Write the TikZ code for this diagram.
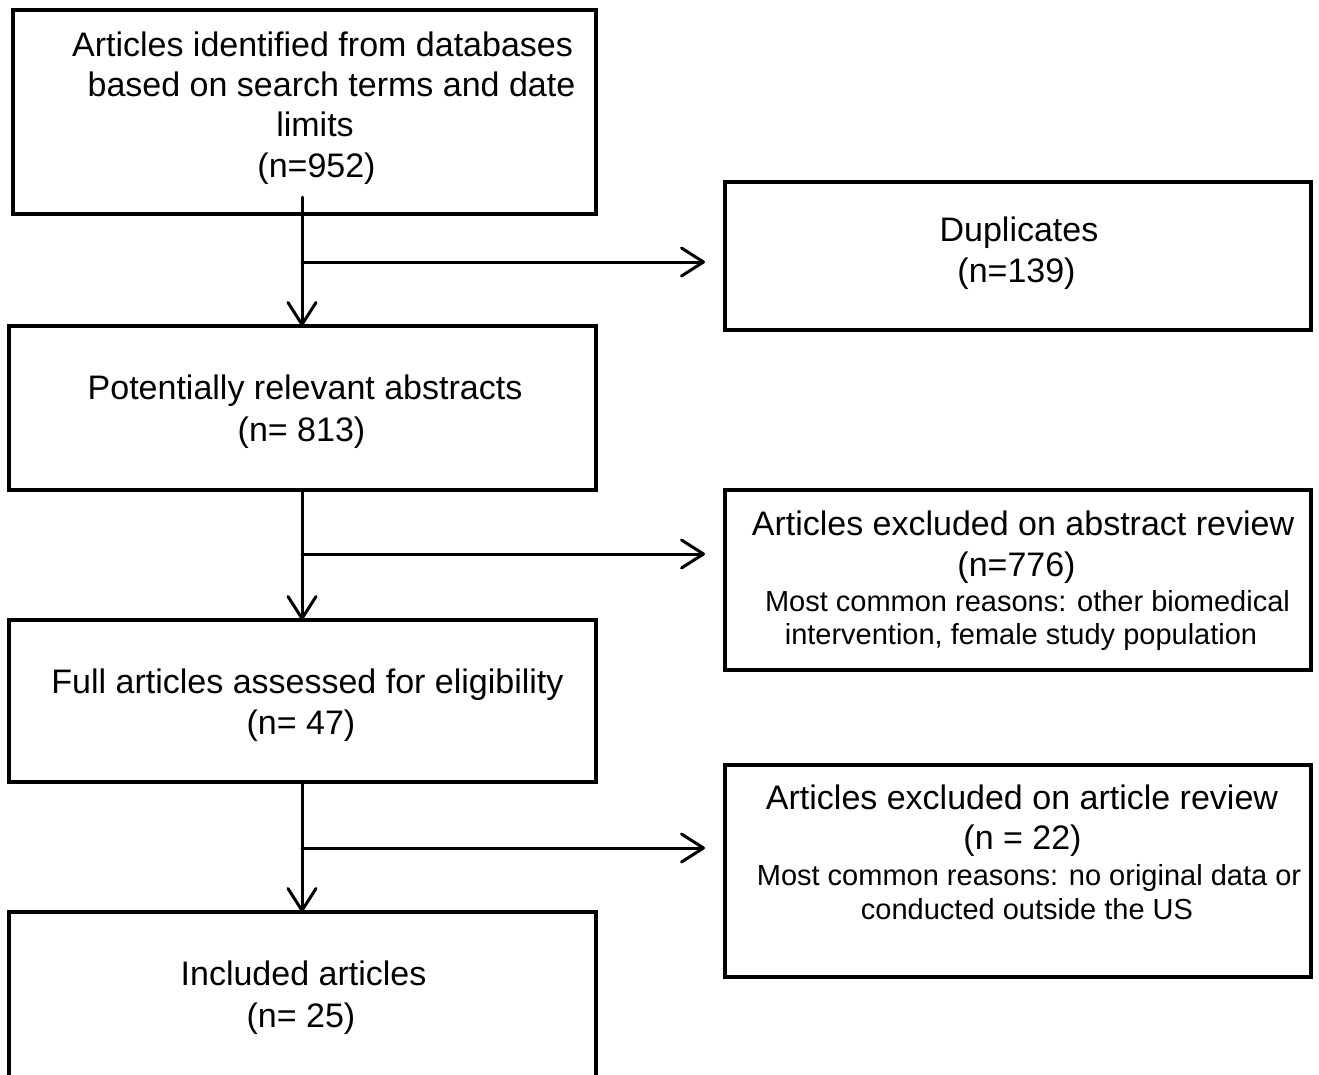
\documentclass[tikz,border=0pt]{standalone}
\usepackage{fontspec}
\setmainfont{Liberation Sans}
\usetikzlibrary{arrows.meta}
\begin{document}
\begin{tikzpicture}[x=1pt,y=-1pt,
  box/.style={draw, line width=4pt, rectangle, inner sep=0pt, outer sep=0pt},
  big/.style={anchor=base, inner sep=0pt, font=\fontsize{34}{41}\selectfont},
  small/.style={anchor=base, inner sep=0pt, font=\fontsize{29}{34}\selectfont},
  conn/.style={line width=3pt, line cap=round},
  arr/.style={conn, -{Straight Barb[length=22pt,width=28pt,round]}}]
\useasboundingbox (0,0) rectangle (1319,1074);
\clip (0,0) rectangle (1319,1074);
% boxes
\node[box, minimum width=583pt, minimum height=204pt] (b1) at (304.5,112) {};
\node[box, minimum width=586pt, minimum height=148pt] (dup) at (1018,256) {};
\node[box, minimum width=587pt, minimum height=164pt] (b2) at (302.5,408) {};
\node[box, minimum width=586pt, minimum height=180pt] (abs) at (1018,580) {};
\node[box, minimum width=587pt, minimum height=162pt] (b3) at (302.5,701) {};
\node[box, minimum width=586pt, minimum height=212pt] (art) at (1018,871) {};
\node[box, minimum width=587pt, minimum height=188pt] (b4) at (302.5,1006) {};
% texts
\node[big] (t1a) at (322.5,56) {Articles identified from databases};
\node[big] (t1b) at (331.5,96) {based on search terms and date};
\node[big] (t1c) at (315,136) {limits};
\node[big] (t1d) at (316.5,177) {(n=952)};
\node[big] (tda) at (1019,241) {Duplicates};
\node[big] (tdb) at (1016.5,282) {(n=139)};
\node[big] (t2a) at (305,399) {Potentially relevant abstracts};
\node[big] (t2b) at (301.5,441) {(n= 813)};
\node[big] (taa) at (1023,535) {Articles excluded on abstract review};
\node[big] (tab) at (1016.5,576) {(n=776)};
\node[small] (tac) at (1027.5,611) {Most common reasons: other biomedical};
\node[small] (tad) at (1021,644) {intervention, female study population};
\node[big] (t3a) at (307.5,693) {Full articles assessed for eligibility};
\node[big] (t3b) at (301,734) {(n= 47)};
\node[big] (tra) at (1022,809) {Articles excluded on article review};
\node[big] (trb) at (1022.5,849) {(n = 22)};
\node[small] (trc) at (1029,885) {Most common reasons: no original data or};
\node[small] (trd) at (1027,919) {conducted outside the US};
\node[big] (t4a) at (303.5,985) {Included articles};
\node[big] (t4b) at (301,1027) {(n= 25)};
% connectors
\coordinate (s1) at (302,197);
\coordinate (k1) at (302,262);
\coordinate (k2) at (302,554);
\coordinate (k3) at (302,848);
\draw[arr] (s1) -- (s1 |- b2.north);
\draw[arr, shorten >=20pt] (k1) -- (k1 -| dup.west);
\draw[arr] (b2.south -| s1) -- (s1 |- b3.north);
\draw[arr, shorten >=20pt] (k2) -- (k2 -| abs.west);
\draw[arr] (b3.south -| s1) -- (s1 |- b4.north);
\draw[arr, shorten >=20pt] (k3) -- (k3 -| art.west);
\end{tikzpicture}
\end{document}
